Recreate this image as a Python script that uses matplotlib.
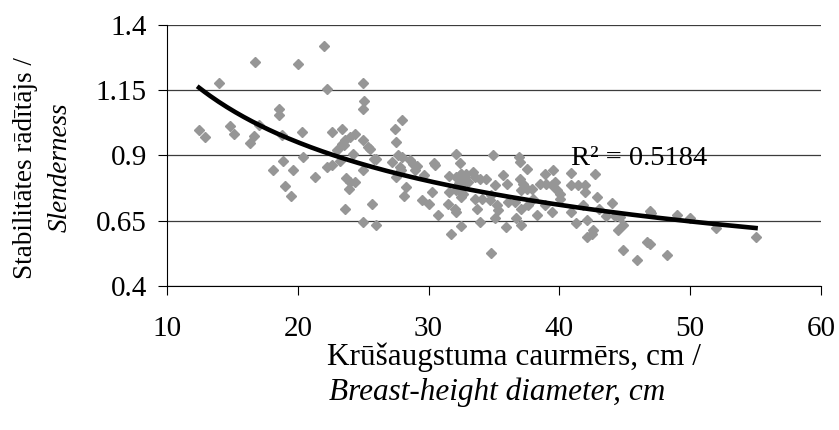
import numpy as np
from matplotlib import pyplot as plt

plt.rcParams['font.family'] = ['Liberation Serif', 'DejaVu Serif']

# diameter at breast height, cm
dbh = [12.45, 12.9, 14.0, 14.8, 15.1, 16.7, 16.65, 16.35, 17.0, 18.6, 18.6, 18.8,
       20.0, 20.3, 22.0, 22.2, 22.6, 23.35, 24.4, 24.0, 23.6, 23.35, 23.5, 23.0,
       24.2, 25.0, 25.1, 25.0, 25.0, 25.4, 25.5, 27.4, 28.0, 27.5, 20.4, 18.9,
       18.1, 19.6, 22.6, 22.2, 23.2, 25.8, 26.0, 25.0, 21.3, 19.0, 19.5, 23.7,
       24.0, 24.4, 23.9, 23.6, 25.0, 25.7, 26.0, 27.2, 27.7, 28.0, 27.8, 27.9,
       28.6, 28.8, 29.1, 29.0, 27.5, 28.3, 28.1, 29.65, 30.4, 30.5, 30.3, 29.5,
       30.0, 30.7, 32.1, 32.4, 31.6, 32.1, 32.5, 32.9, 32.3, 32.65, 31.6, 32.1,
       32.5, 31.5, 32.0, 32.1, 32.5, 31.7,
       32.5, 32.8, 33.0, 33.4, 33.55, 33.9, 34.4, 34.95, 35.1, 35.7, 36.0, 36.9,
       37.0, 37.5, 37.0, 37.25, 37.5, 37.1, 37.9, 38.5, 38.9, 39.5, 39.0, 39.4,
       39.7, 39.8, 40.05, 40.05, 40.9, 40.9, 41.45, 41.95, 41.95, 42.7, 42.85, 44.0,
       43.6, 44.25, 44.6, 46.9, 47.0, 44.9, 44.5, 44.85, 45.9, 46.7, 46.9, 32.65,
       33.55, 33.7, 34.05, 34.7, 34.8, 35.2, 35.3, 35.1, 33.9, 34.75, 35.9, 36.7,
       37.1, 36.1, 36.6, 37.1, 37.6, 38.0, 38.3, 38.9, 39.4, 40.9, 41.3, 42.1,
       42.1, 42.5, 42.6, 43.0, 41.8, 48.2, 49.0, 50.0, 52.0, 55.0]
# slenderness
slend = [0.995, 0.968, 1.176, 1.011, 0.98, 1.256, 0.974, 0.947, 1.014, 1.078, 1.053, 0.976,
         1.25, 0.989, 1.316, 1.152, 0.989, 1.002, 0.983, 0.97, 0.957, 0.944, 0.938, 0.919,
         0.906, 1.177, 1.107, 1.078, 0.957, 0.932, 0.925, 0.999, 1.033, 0.951, 0.894, 0.878,
         0.845, 0.843, 0.862, 0.855, 0.878, 0.884, 0.884, 0.843, 0.815, 0.783, 0.743, 0.811,
         0.798, 0.796, 0.769, 0.696, 0.643, 0.715, 0.633, 0.874, 0.9, 0.894, 0.855, 0.843,
         0.883, 0.868, 0.858, 0.843, 0.815, 0.777, 0.743, 0.824, 0.871, 0.862, 0.76, 0.728,
         0.712, 0.671, 0.904, 0.871, 0.82, 0.815, 0.827, 0.83, 0.794, 0.792, 0.76, 0.766,
         0.741, 0.712, 0.696, 0.684, 0.63, 0.598,
         0.83, 0.817, 0.798, 0.836, 0.817, 0.81, 0.81, 0.9, 0.785, 0.823, 0.791, 0.893,
         0.874, 0.849, 0.81, 0.791, 0.772, 0.766, 0.772, 0.791, 0.83, 0.842, 0.791, 0.785,
         0.798, 0.766, 0.753, 0.734, 0.832, 0.785, 0.785, 0.785, 0.76, 0.827, 0.74, 0.718,
         0.667, 0.667, 0.662, 0.687, 0.68, 0.632, 0.613, 0.537, 0.499, 0.569, 0.562, 0.753,
         0.734, 0.696, 0.734, 0.728, 0.747, 0.709, 0.69, 0.658, 0.645, 0.527, 0.626, 0.658,
         0.632, 0.722, 0.722, 0.696, 0.709, 0.734, 0.67, 0.709, 0.683, 0.683, 0.639, 0.652,
         0.588, 0.6, 0.613, 0.696, 0.709, 0.518, 0.673, 0.658, 0.62, 0.588]

xticks = [10, 20, 30, 40, 50, 60]
yticks = [0.4, 0.65, 0.9, 1.15, 1.4]
ytick_labels = ['0.4', '0.65', '0.9', '1.15', '1.4']

x = np.array(dbh)
y = np.array(slend)

# power trendline y = a*x^b (log-log fit)
b, loga = np.polyfit(np.log(x), np.log(y), 1)
xs = np.linspace(x.min(), x.max(), 200)
ys = np.exp(loga) * xs ** b

fig = plt.figure(figsize=(8.39, 4.30), dpi=100)
ax = fig.add_axes([0.199, 0.335, 0.7795, 0.608])

ax.plot(x, y, linestyle='none', marker='D', markersize=5.6, color='#969696', zorder=3)
ax.plot(xs, ys, color='black', linewidth=3.3, zorder=4)

ax.set_xlim(10, 60)
ax.set_ylim(0.4, 1.4)
ax.set_xticks(xticks)
ax.set_yticks(yticks)
ax.set_yticklabels(ytick_labels)
ax.grid(True, axis='y', color='#3c3c3c', linewidth=0.9)
ax.set_axisbelow(True)
ax.spines['top'].set_visible(False)
ax.spines['right'].set_visible(False)
ax.tick_params(axis='both', direction='out', length=6.5, width=0.8, labelsize=21)
ax.tick_params(axis='x', pad=15)
ax.tick_params(axis='y', pad=8)

ax.text(40.9, 0.862, 'R² = 0.5184', fontsize=20.5)

# axis titles
fig.text(0.03, 0.61, 'Stabilitātes rādītājs /', rotation=90, fontsize=19.5,
         ha='center', va='center')
fig.text(0.0715, 0.61, 'Slenderness', rotation=90, fontsize=19.5, style='italic',
         ha='center', va='center')
fig.text(0.613, 0.17, 'Krūšaugstuma caurmērs, cm /', fontsize=22.5, ha='center', va='center')
fig.text(0.593, 0.088, 'Breast-height diameter, cm', fontsize=22.5, style='italic',
         ha='center', va='center')

plt.savefig('out.png', dpi=100)
